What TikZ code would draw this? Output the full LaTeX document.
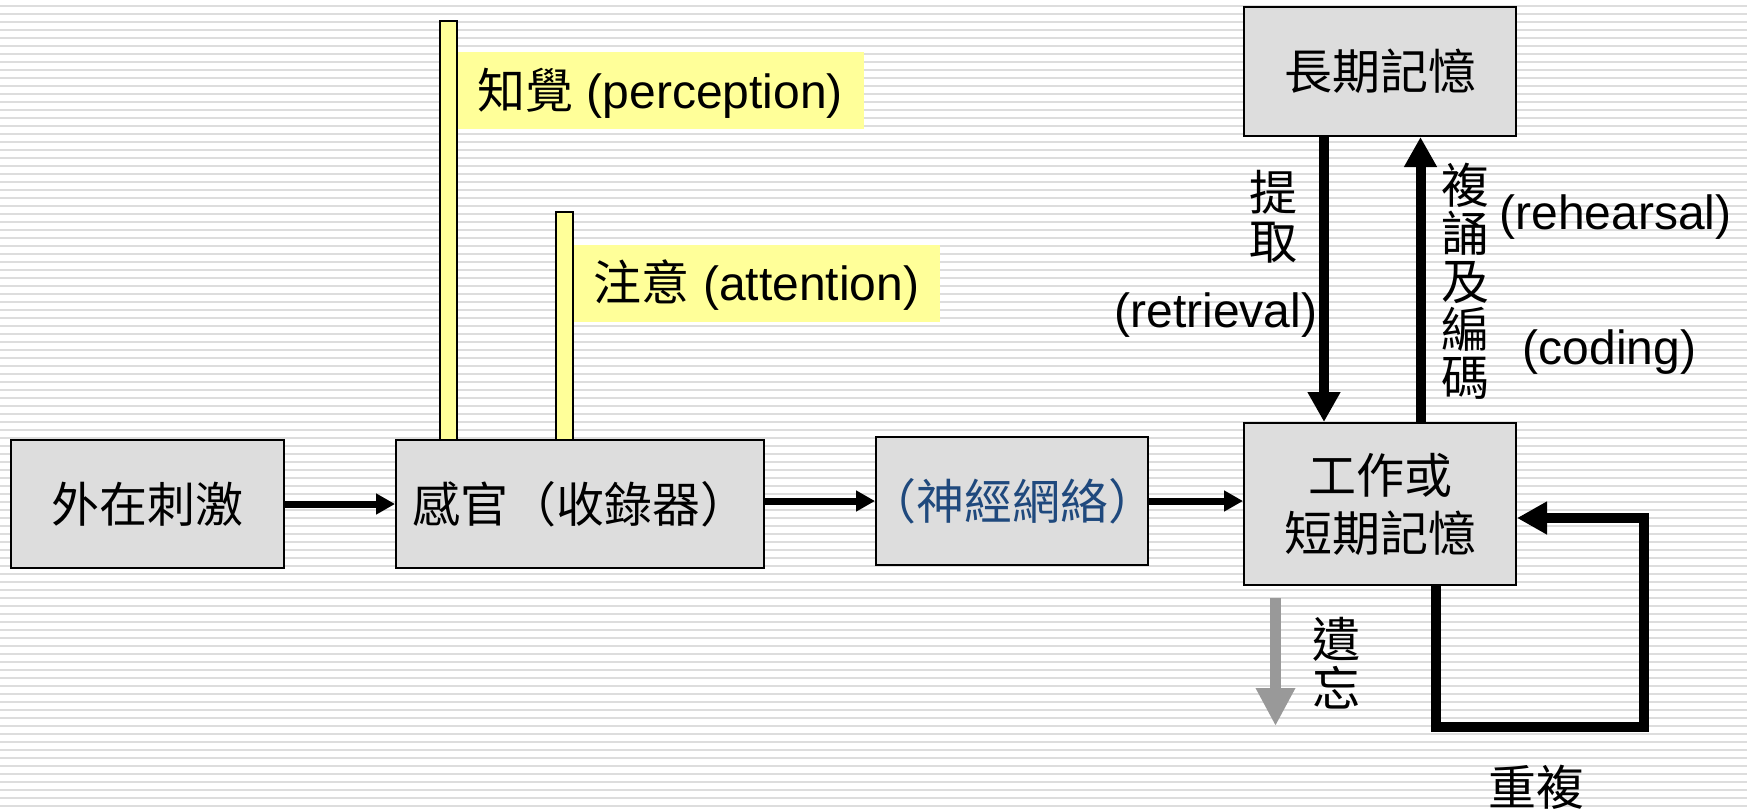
\documentclass[tikz,border=0pt]{standalone}
\usepackage{fontspec}
\setmainfont{Liberation Sans}
\newfontfamily\cjk{Noto Sans CJK TC}
\usetikzlibrary{arrows.meta}
\definecolor{boxgray}{HTML}{DDDDDD}
\definecolor{stripe}{HTML}{DDDDDD}
\definecolor{hl}{HTML}{FFFF99}
\definecolor{navy}{HTML}{1F497D}
\definecolor{fgray}{HTML}{999999}
\begin{document}
\begin{tikzpicture}[x=0.5pt,y=-0.5pt,
  every node/.style={font=\fontsize{24}{28.5}\selectfont},
  box/.style={draw=black, line width=1pt, fill=boxgray, inner sep=0pt, align=center,
    font=\fontsize{24}{28.5}\selectfont\cjk},
  ylabel/.style={fill=hl, inner xsep=10.5pt, inner ysep=0pt, minimum height=38.5pt,
    text height=20pt, text depth=2.5pt, anchor=west},
  bar/.style={draw=black, line width=1pt, fill=hl},
  thinarrow/.style={line width=3.5pt, -{Triangle[length=9.5pt,width=10pt]}},
  thickarrow/.style={line width=5pt, -{Triangle[length=15pt,width=15.5pt]}},
  forgetarrow/.style={line width=5.5pt, draw=fgray, -{Triangle[length=19pt,width=18.5pt]}},
  vlabel/.style={align=center, font=\fontsize{24}{24}\selectfont\cjk},
  cjklabel/.style={font=\fontsize{24}{24}\selectfont\cjk}
]
\useasboundingbox (0,0) rectangle (1747,810);
\fill[white] (0,0) rectangle (1747,810);
\foreach \k in {0,...,100} \fill[stripe] (0,{5+8*\k}) rectangle (1747,{7+8*\k});

% yellow labels and bars
\node[ylabel] (perc) at (456,90.5) {{\cjk 知覺} (perception)};
\node[ylabel] (attn) at (572.5,283) {{\cjk 注意} (attention)};
\draw[bar] (440,21) rectangle (456.5,440);
\draw[bar] (556,212) rectangle (572.5,440);

% boxes
\node[box, minimum width=136.5pt, minimum height=64pt] (b1) at (147.5,504) {外在刺激};
\node[box, minimum width=184pt, minimum height=64pt] (b2) at (580,504) {感官（收錄器）};
\node[box, minimum width=136pt, minimum height=64pt, text=navy] (b3) at (1012,501) {\kern-7pt（神經網絡）\kern-7pt};
\node[box, minimum width=136pt, minimum height=81pt] (b4) at (1380,504) {工作或\\[0.5pt]短期記憶};
\node[box, minimum width=136pt, minimum height=64.5pt] (b5) at (1380,71.5) {長期記憶};

% horizontal arrows
\draw[thinarrow] (b1) -- (b2);
\draw[thinarrow] (b2.east |- b3.west) -- (b3.west);
\draw[thinarrow] (b3.east) -- (b3.east -| b4.west);

% vertical arrows
\coordinate (rx) at (1324,0);
\coordinate (hx) at (1420.5,0);
\draw[thickarrow] (b5.south -| rx) -- (b4.north -| rx);
\draw[thickarrow] (b4.north -| hx) -- (b5.south -| hx);

% repetition loop
\coordinate (l1) at (1436,727);
\coordinate (l2) at (1644,727);
\coordinate (l3) at (1644,518);
\draw[thickarrow] (b4.south -| l1) -- (l1) -- (l2) -- (l3) -- (b4.east |- l3);

% forgetting
\coordinate (f1) at (1275.5,598);
\coordinate (f2) at (1275.5,726);
\draw[forgetarrow] (f1) -- (f2);

% labels
\node[vlabel, font=\fontsize{24}{24.5}\selectfont\cjk] (tq) at (1273,216.5) {提\\取};
\node (tqe) at (1216,315) {(retrieval)};
\node[vlabel] (rc) at (1465,281) {複\\誦\\及\\編\\碼};
\node (rce) at (1615.5,217) {(rehearsal)};
\node (cde) at (1609.5,352) {(coding)};
\node[vlabel, font=\fontsize{24}{24.75}\selectfont\cjk] (fg) at (1336,663) {遺\\忘};
\node[cjklabel] (rp) at (1536,787) {重複};
\end{tikzpicture}
\end{document}
